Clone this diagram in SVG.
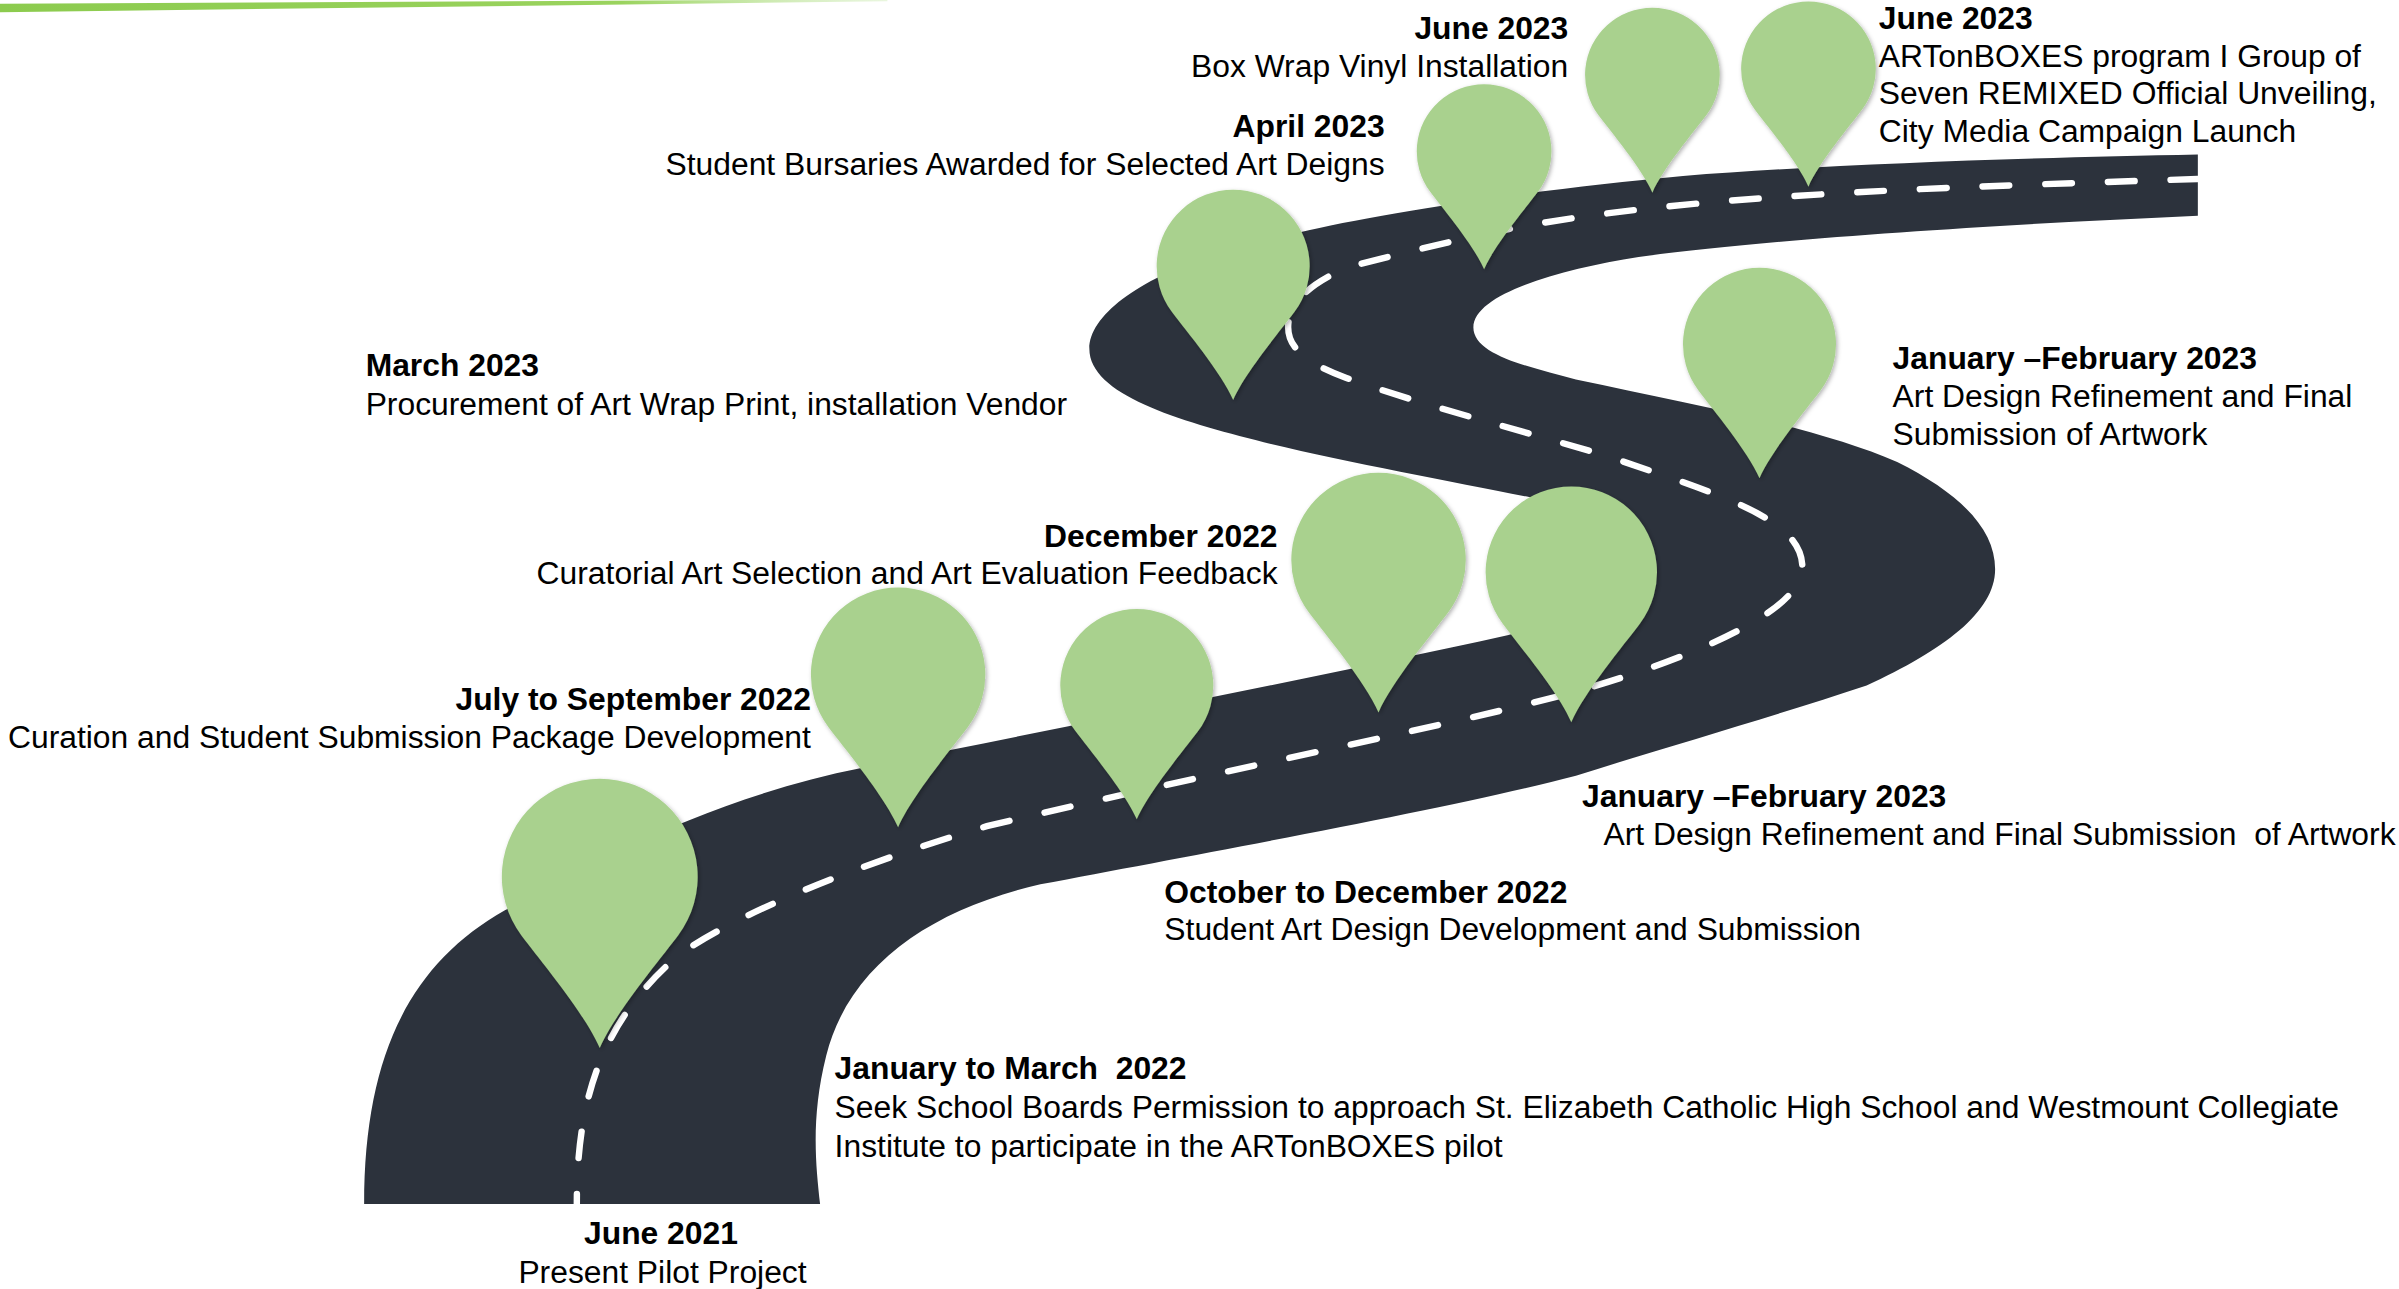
<svg xmlns="http://www.w3.org/2000/svg" width="2399" height="1289" viewBox="0 0 2399 1289">
<defs>
<style>
.t{font-family:"Liberation Sans",Arial,sans-serif;font-size:20.8px;fill:#000}
.b{font-weight:bold}
.r{text-anchor:end}
.m{text-anchor:middle}
.pin{fill:#A9D18E;filter:url(#sh)}
.road{fill:#2C323C}
.dash{fill:none;stroke:#FFFFFF;stroke-width:4.2;stroke-linecap:round;stroke-dasharray:17.5 23.5;stroke-dashoffset:11}
</style>
<linearGradient id="gl" x1="0" y1="0" x2="1" y2="0">
<stop offset="0" stop-color="#8CCB4E"/>
<stop offset="0.7" stop-color="#9AD35E"/>
<stop offset="1" stop-color="#C9E9AE" stop-opacity="0.4"/>
</linearGradient>
<filter id="sh" x="-20%" y="-20%" width="140%" height="140%">
<feDropShadow dx="1" dy="1.2" stdDeviation="1.3" flood-color="#000" flood-opacity="0.3"/>
</filter>
</defs>
<rect width="2399" height="1289" fill="#FFFFFF"/>
<g transform="scale(1.53)">
<polygon id="topline" points="0,2.5 580,-0.5 580,0.8 0,8" fill="url(#gl)"/>
<g id="road">
<path class="road" d="M238,787 C238,690 268,630 330,595 C380,566 470,520 563,502 C700,474 850,445 986,415 C1015,408 1040,380 1055,345 C1035,335 1015,329 1000,325 C950,315 880,302 826,289 C770,275 712,258 712,228 C712,200 765,168 849,152 C900,140 1000,124 1100,115 C1200,107 1330,103 1436.5,101 L1436.5,141 C1300,147 1150,157 1071,168 C1020,176 963,192 963,214 C963,232 1000,240 1030,248 C1110,265 1190,280 1240,302 C1280,322 1304,345 1304,372 C1304,400 1270,425 1220,448 C1160,468 1090,488 1030,507 C950,528 790,557 680,578 C610,594 555,630 540,690 C530,730 533,760 536,787 Z"/>
</g>
<g id="connectors">
<path class="dash" d="M377,787 C377,720 392,668 444,624 C480,598 560,565 645,540 C800,503 950,474 1030,452 C1100,432 1180,400 1178,370 C1177,340 1130,325 1050,298 C990,280 930,265 880,247 C850,236 841,225 842,212 C843,198 855,186 880,175 C910,167 950,157 990,149 C1100,128 1250,123 1436.5,117"/>
</g>
<g id="n-jun2021">
<path class="pin" d="M392,685 C382.4,662.6 352.32,626.76 340.8,611.4 A64,64 0 1 1 443.2,611.4 C431.68,626.76 401.6,662.6 392,685 Z"/>
<text class="t b m" x="432" y="813.3">June 2021</text>
<text class="t m" x="433" y="838.5">Present Pilot Project</text>
</g>
<g id="n-janmar2022">
<text class="t b" x="545.5" y="705.2" xml:space="preserve" style="white-space:pre">January to March  2022</text>
<text class="t" x="545.5" y="730.5">Seek School Boards Permission to approach St. Elizabeth Catholic High School and Westmount Collegiate</text>
<text class="t" x="545.5" y="756">Institute to participate in the ARTonBOXES pilot</text>
</g>
<g id="n-julsep2022">
<path class="pin" d="M587,540.75 C578.45,520.8 551.66,488.88 541.4,475.2 A57,57 0 1 1 632.6,475.2 C622.34,488.88 595.55,520.8 587,540.75 Z"/>
<text class="t b r" x="530" y="464.3">July to September 2022</text>
<text class="t r" x="530" y="488.8">Curation and Student Submission Package Development</text>
</g>
<g id="n-octdec2022">
<path class="pin" d="M743,535.5 C735.5,518 712,490 703,478 A50,50 0 1 1 783,478 C774,490 750.5,518 743,535.5 Z"/>
<text class="t b" x="761" y="590">October to December 2022</text>
<text class="t" x="761" y="614.5">Student Art Design Development and Submission</text>
</g>
<g id="n-dec2022">
<path class="pin" d="M901,465.75 C892.45,445.8 865.66,413.88 855.4,400.2 A57,57 0 1 1 946.6,400.2 C936.34,413.88 909.55,445.8 901,465.75 Z"/>
<text class="t b r" x="835" y="357.4">December 2022</text>
<text class="t r" x="835" y="382">Curatorial Art Selection and Art Evaluation Feedback</text>
</g>
<g id="n-janfeb2023-a">
<path class="pin" d="M1027,472 C1018.6,452.4 992.28,421.04 982.2,407.6 A56,56 0 1 1 1071.8,407.6 C1061.72,421.04 1035.4,452.4 1027,472 Z"/>
<text class="t b" x="1034" y="527.5">January –February 2023</text>
<text class="t" x="1048" y="552.3" xml:space="preserve" style="white-space:pre">Art Design Refinement and Final Submission  of Artwork</text>
</g>
<g id="n-janfeb2023-b">
<path class="pin" d="M1150,312.5 C1142.5,295 1119,267 1110,255 A50,50 0 1 1 1190,255 C1181,267 1157.5,295 1150,312.5 Z"/>
<text class="t b" x="1237" y="241.5">January –February 2023</text>
<text class="t" x="1237" y="266">Art Design Refinement and Final</text>
<text class="t" x="1237" y="291">Submission of Artwork</text>
</g>
<g id="n-mar2023">
<path class="pin" d="M806,261.5 C798.5,244 775,216 766,204 A50,50 0 1 1 846,204 C837,216 813.5,244 806,261.5 Z"/>
<text class="t b" x="239" y="246">March 2023</text>
<text class="t" x="239" y="271">Procurement of Art Wrap Print, installation Vendor</text>
</g>
<g id="n-apr2023">
<path class="pin" d="M970,176 C963.4,160.6 942.72,135.96 934.8,125.4 A44,44 0 1 1 1005.2,125.4 C997.28,135.96 976.6,160.6 970,176 Z"/>
<text class="t b r" x="905" y="89.5">April 2023</text>
<text class="t r" x="905" y="114.5">Student Bursaries Awarded for Selected Art Deigns</text>
</g>
<g id="n-jun2023-a">
<path class="pin" d="M1080,126 C1073.4,110.6 1052.72,85.96 1044.8,75.4 A44,44 0 1 1 1115.2,75.4 C1107.28,85.96 1086.6,110.6 1080,126 Z"/>
<text class="t b r" x="1025" y="25.7">June 2023</text>
<text class="t r" x="1025" y="50.5">Box Wrap Vinyl Installation</text>
</g>
<g id="n-jun2023-b">
<path class="pin" d="M1182,122 C1175.4,106.6 1154.72,81.96 1146.8,71.4 A44,44 0 1 1 1217.2,71.4 C1209.28,81.96 1188.6,106.6 1182,122 Z"/>
<text class="t b" x="1228" y="19">June 2023</text>
<text class="t" x="1228" y="43.5">ARTonBOXES program I Group of</text>
<text class="t" x="1228" y="68">Seven REMIXED Official Unveiling,</text>
<text class="t" x="1228" y="92.5">City Media Campaign Launch</text>
</g>
</g>
</svg>
